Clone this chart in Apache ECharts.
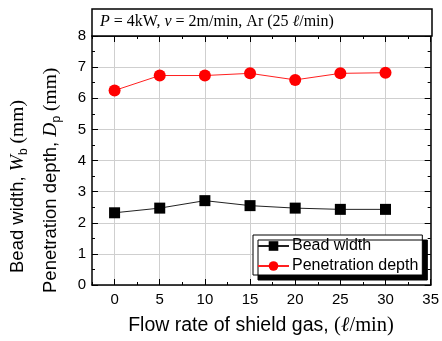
<!DOCTYPE html>
<html><head><meta charset="utf-8">
<script src="https://cdn.jsdelivr.net/npm/echarts@6/dist/echarts.min.js"></script>
<style>html,body{margin:0;padding:0;background:#fff}#c{width:442px;height:341px}</style>
</head><body><div id="c"></div>
<script>
const flowRates = [0, 5, 10, 15, 20, 25, 30];
const beadWidth = [2.32, 2.47, 2.71, 2.55, 2.47, 2.43, 2.43];
const penDepth = [6.25, 6.73, 6.73, 6.80, 6.59, 6.80, 6.82];
const xTickValues = [0, 5, 10, 15, 20, 25, 30, 35];
const xMin = -2.5, xMax = 35, yMin = 0, yMax = 8;
const seriesNames = ['Bead width', 'Penetration depth'];

const SANS = 'Liberation Sans, Arial, sans-serif';
const SERIF = 'Liberation Serif, Times New Roman, serif';

const chart = echarts.init(document.getElementById('c'), null, {renderer: 'canvas'});

function xAxisDef(pos, main, labels) {
  const a = {
    type: 'value', min: xMin, max: xMax, position: pos, gridIndex: 0,
    axisLine: {show: main, onZero: false, lineStyle: {color: '#000', width: 1.5}},
    axisLabel: {show: false},
    splitLine: {show: false}
  };
  if (main) {
    a.interval = 2.5;
    a.axisTick = {show: true, inside: true, length: 3, lineStyle: {color: '#000', width: 1}};
  } else {
    a.axisTick = {show: true, inside: true, length: 6, customValues: xTickValues, lineStyle: {color: '#000', width: 1}};
  }
  if (labels) {
    a.axisLabel = {show: true, margin: 7, fontSize: 15, color: '#000', fontFamily: SANS,
      formatter: v => (v >= 0 && Math.abs(v % 5) < 1e-9) ? String(v) : ''};
    a.splitLine = {show: true, lineStyle: {color: ['rgba(0,0,0,0)', '#cfcfcf'], width: 1}};
  }
  return a;
}

function yAxisDef(pos, labels) {
  return {
    type: 'value', min: yMin, max: yMax, interval: 1, position: pos, gridIndex: 0,
    axisLine: {show: true, onZero: false, lineStyle: {color: '#000', width: 1.5}},
    axisTick: {show: true, inside: true, length: 6, lineStyle: {color: '#000', width: 1}},
    minorTick: {show: true, splitNumber: 2, length: 3, lineStyle: {color: '#000', width: 1}},
    axisLabel: {show: labels, margin: 6, fontSize: 15, color: '#000', fontFamily: SANS},
    splitLine: {show: labels, lineStyle: {color: '#cfcfcf', width: 1}}
  };
}

const yTitleRich = {
  s: {fontFamily: SANS, fontSize: 18.5, fill: '#000', verticalAlign: 'middle', lineHeight: 24},
  i: {fontFamily: SERIF, fontStyle: 'italic', fontSize: 19.5, fill: '#000', verticalAlign: 'middle', lineHeight: 24},
  b: {fontFamily: SANS, fontSize: 12, fill: '#000', verticalAlign: 'bottom', lineHeight: 13},
  r: {fontFamily: SERIF, fontSize: 19.5, fill: '#000', verticalAlign: 'middle', lineHeight: 24}
};

const option = {
  animation: false,
  backgroundColor: '#fff',
  grid: {left: 92, right: 10, top: 36, bottom: 56, containLabel: false},
  xAxis: [
    xAxisDef('bottom', true, true),
    xAxisDef('bottom', false, false),
    xAxisDef('top', true, false),
    xAxisDef('top', false, false)
  ],
  yAxis: [yAxisDef('left', true), yAxisDef('right', false)],
  legend: {
    data: seriesNames,
    orient: 'vertical', left: 253, top: 235,
    padding: [3, 4, 1, 4], itemGap: 4, itemWidth: 31, itemHeight: 12,
    backgroundColor: '#fff', borderColor: '#000', borderWidth: 1,
    shadowColor: '#000', shadowBlur: 0, shadowOffsetX: 5, shadowOffsetY: 5,
    textStyle: {fontSize: 16, color: '#000', fontFamily: SANS, padding: [0, 0, 0, -2]}
  },
  series: [
    {
      name: seriesNames[0], type: 'line', xAxisIndex: 0, yAxisIndex: 0,
      data: flowRates.map((x, i) => [x, beadWidth[i]]),
      symbol: 'rect', symbolSize: 11,
      itemStyle: {color: '#000'},
      lineStyle: {color: '#222', width: 1}
    },
    {
      name: seriesNames[1], type: 'line', xAxisIndex: 0, yAxisIndex: 0,
      data: flowRates.map((x, i) => [x, penDepth[i]]),
      symbol: 'circle', symbolSize: 12,
      itemStyle: {color: '#ff0000'},
      lineStyle: {color: '#ff2020', width: 1}
    }
  ],
  graphic: [
    {type: 'rect', z: 10, shape: {x: 92, y: 9, width: 340, height: 27},
     style: {fill: '#fff', stroke: '#000', lineWidth: 1.5}},
    {type: 'text', z: 11, x: 100, y: 22,
     style: {
       text: '{i|P}{n| = 4kW, }{i|v}{n| = 2m/min, Ar (25 }{i|ℓ}{n|/min)}',
       verticalAlign: 'middle',
       rich: {
         i: {fontFamily: SERIF, fontStyle: 'italic', fontSize: 16, fill: '#000'},
         n: {fontFamily: SERIF, fontSize: 16, fill: '#000'}
       }
     }},
    {type: 'text', z: 11, x: 18, y: 273, rotation: Math.PI / 2,
     style: {
       text: '{s|Bead width, }{i|W}{b|b}{r| (mm)}',
       align: 'left', verticalAlign: 'middle',
       rich: yTitleRich
     }},
    {type: 'text', z: 11, x: 51, y: 293, rotation: Math.PI / 2,
     style: {
       text: '{s|Penetration depth, }{i|D}{b|p}{r| (mm)}',
       align: 'left', verticalAlign: 'middle',
       rich: yTitleRich
     }},
    {type: 'text', z: 11, x: 261, y: 326,
     style: {
       text: '{s|Flow rate of shield gas, }{r|(}{i|ℓ}{r|/min)}',
       align: 'center', verticalAlign: 'middle',
       rich: {
         s: {fontFamily: SANS, fontSize: 19.5, fill: '#000'},
         i: {fontFamily: SERIF, fontStyle: 'italic', fontSize: 20.5, fill: '#000'},
         r: {fontFamily: SERIF, fontSize: 20.5, fill: '#000'}
       }
     }}
  ]
};
chart.setOption(option);
</script>
</body></html>
